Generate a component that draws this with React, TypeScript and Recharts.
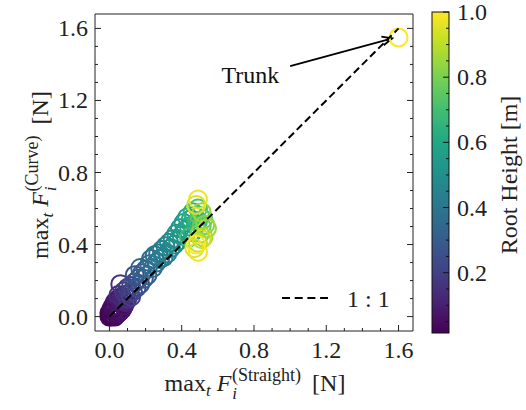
import { ScatterChart, Scatter, XAxis, YAxis, ReferenceLine, ReferenceDot, Customized } from 'recharts';

// max_t F_i (Straight) [N]
const straight = [
  0.0, 0.005, 0.01, 0.01, 0.02, 0.02, 0.03, 0.03, 0.04, 0.04, 0.05, 0.05, 0.06, 0.06, 0.07, 0.03, 0.02,
  0.0, 0.01, 0.03, 0.04, 0.05, 0.06, 0.07, 0.08, 0.02, 0.04, 0.05, 0.07, 0.09,
  0.07, 0.08, 0.05, 0.09, 0.06, 0.1, 0.08, 0.11, 0.1, 0.12,
  0.12, 0.13, 0.14, 0.15, 0.14, 0.16, 0.17, 0.18, 0.19, 0.2, 0.21, 0.17,
  0.22, 0.23, 0.24, 0.25, 0.26, 0.27, 0.28, 0.29, 0.3, 0.31, 0.32, 0.33, 0.34, 0.35, 0.36, 0.37,
  0.38, 0.39, 0.4, 0.41, 0.42, 0.43, 0.44, 0.45, 0.46, 0.47, 0.48, 0.46, 0.49, 0.44,
  0.49, 0.5, 0.51, 0.52, 0.5, 0.53, 0.51, 0.54, 0.52, 0.49,
  0.48, 0.49, 0.47, 0.49, 0.51, 0.48,
  1.6,
];
// max_t F_i (Curve) [N]
const curve = [
  0.0, 0.01, 0.0, 0.02, 0.01, 0.03, 0.02, 0.04, 0.03, 0.05, 0.04, 0.06, 0.05, 0.08, 0.07, 0.08, 0.06,
  0.02, 0.04, 0.0, 0.01, 0.02, 0.03, 0.04, 0.06, 0.05, 0.08, 0.1, 0.11, 0.08,
  0.1, 0.09, 0.12, 0.12, 0.18, 0.1, 0.14, 0.13, 0.16, 0.11,
  0.17, 0.14, 0.19, 0.16, 0.23, 0.21, 0.18, 0.24, 0.21, 0.26, 0.23, 0.27,
  0.29, 0.32, 0.27, 0.34, 0.3, 0.35, 0.32, 0.37, 0.33, 0.39, 0.35, 0.41, 0.38, 0.43, 0.4, 0.46,
  0.42, 0.49, 0.45, 0.52, 0.48, 0.55, 0.5, 0.54, 0.47, 0.56, 0.51, 0.58, 0.53, 0.44,
  0.6, 0.56, 0.5, 0.54, 0.46, 0.51, 0.58, 0.49, 0.44, 0.41,
  0.62, 0.65, 0.38, 0.36, 0.43, 0.4,
  1.55,
];
// root height [m]
const rootHeight = [
  0.02, 0.02, 0.03, 0.03, 0.04, 0.04, 0.05, 0.05, 0.06, 0.06, 0.07, 0.07, 0.08, 0.08, 0.09, 0.09, 0.1,
  0.02, 0.03, 0.03, 0.04, 0.05, 0.06, 0.07, 0.08, 0.05, 0.08, 0.09, 0.1, 0.11,
  0.11, 0.12, 0.13, 0.14, 0.15, 0.16, 0.17, 0.18, 0.19, 0.2,
  0.21, 0.22, 0.23, 0.24, 0.25, 0.26, 0.27, 0.28, 0.29, 0.3, 0.32, 0.33,
  0.35, 0.36, 0.37, 0.38, 0.39, 0.4, 0.41, 0.42, 0.43, 0.44, 0.45, 0.46, 0.47, 0.48, 0.49, 0.5,
  0.52, 0.53, 0.54, 0.55, 0.56, 0.57, 0.58, 0.6, 0.61, 0.62, 0.64, 0.65, 0.67, 0.69,
  0.72, 0.74, 0.76, 0.78, 0.8, 0.82, 0.84, 0.86, 0.88, 0.9,
  0.94, 0.97, 0.95, 0.98, 0.92, 1.0,
  1.0,
];

// 1:1 reference line
const oneToOneX = [0, 1.6];
const oneToOneY = [0, 1.6];

const majorTicks = [0, 0.4, 0.8, 1.2, 1.6];
const axisTicks = [0, 0.1, 0.2, 0.3, 0.4, 0.5, 0.6, 0.7, 0.8, 0.9, 1.0, 1.1, 1.2, 1.3, 1.4, 1.5, 1.6];
const cbarTicks = [0.2, 0.4, 0.6, 0.8, 1.0];
const cbarMinorTicks = [0.05, 0.1, 0.15, 0.25, 0.3, 0.35, 0.45, 0.5, 0.55, 0.65, 0.7, 0.75, 0.85, 0.9, 0.95];
const cbarMin = 0.015;
const cbarMax = 1.0;

const viridis = ['#440154', '#482475', '#414487', '#355f8d', '#2a788e', '#21918c', '#22a884', '#44bf70', '#7ad151', '#bddf26', '#fde725'];

const FONT = '"Liberation Serif", serif';
const INK = '#222';
const FS = 24;

const data = straight.map((x, i) => ({ x, y: curve[i], h: rootHeight[i] }));
const lineData = oneToOneX.map((x, i) => ({ x, y: oneToOneY[i] }));

function hexToRgb(h: string) {
  return [1, 3, 5].map((k) => parseInt(h.slice(k, k + 2), 16));
}

function colorFor(v: number) {
  const t = Math.min(1, Math.max(0, (v - cbarMin) / (cbarMax - cbarMin)));
  const pos = t * (viridis.length - 1);
  const i = Math.min(viridis.length - 2, Math.floor(pos));
  const f = pos - i;
  const a = hexToRgb(viridis[i]);
  const b = hexToRgb(viridis[i + 1]);
  const c = a.map((av, k) => Math.round(av + (b[k] - av) * f));
  return `rgb(${c[0]},${c[1]},${c[2]})`;
}

const isMajor = (v: number) => majorTicks.some((m) => Math.abs(m - v) < 1e-6);

const BottomTick = (props: any) => {
  const { x, y, payload } = props;
  const major = isMajor(payload.value);
  return (
    <g>
      <line x1={x} x2={x} y1={y} y2={y - (major ? 6 : 3)} stroke={INK} />
      {major && (
        <text x={x} y={y + 27} textAnchor="middle" fontSize={FS} fontFamily={FONT} fill={INK}>
          {payload.value.toFixed(1)}
        </text>
      )}
    </g>
  );
};

const TopTick = (props: any) => {
  const { x, y, payload } = props;
  const major = isMajor(payload.value);
  return <line x1={x} x2={x} y1={y} y2={y + (major ? 6 : 3)} stroke={INK} />;
};

const LeftTick = (props: any) => {
  const { x, y, payload } = props;
  const major = isMajor(payload.value);
  return (
    <g>
      <line x1={x} x2={x + (major ? 6 : 3)} y1={y} y2={y} stroke={INK} />
      {major && (
        <text x={x - 7} y={y + 8} textAnchor="end" fontSize={FS} fontFamily={FONT} fill={INK}>
          {payload.value.toFixed(1)}
        </text>
      )}
    </g>
  );
};

const RightTick = (props: any) => {
  const { x, y, payload } = props;
  const major = isMajor(payload.value);
  return <line x1={x} x2={x - (major ? 6 : 3)} y1={y} y2={y} stroke={INK} />;
};

const Ring = (props: any) => {
  const { cx, cy, payload } = props;
  return <circle cx={cx} cy={cy} r={9} fill="none" stroke={colorFor(payload.h)} strokeWidth={2} />;
};

const NoDot = () => <g />;

const Arrow = (props: any) => {
  const { x1, y1, x2, y2 } = props;
  const ang = Math.atan2(y2 - y1, x2 - x1);
  const L = 11;
  const a1 = ang + Math.PI - 0.42;
  const a2 = ang + Math.PI + 0.42;
  return (
    <g>
      <line x1={x1} y1={y1} x2={x2} y2={y2} stroke="#000" strokeWidth={1.8} />
      <polyline
        points={`${x2 + L * Math.cos(a1)},${y2 + L * Math.sin(a1)} ${x2},${y2} ${x2 + L * Math.cos(a2)},${y2 + L * Math.sin(a2)}`}
        fill="none"
        stroke="#000"
        strokeWidth={1.8}
      />
    </g>
  );
};

const TrunkLabel = (props: any) => {
  const { cx, cy } = props;
  return (
    <text x={cx} y={cy + 8} textAnchor="middle" fontSize={FS} fontFamily={FONT} fill="#111">
      Trunk
    </text>
  );
};

const MathTitle = ({ x, y, sup, rotate }: { x: number; y: number; sup: string; rotate?: boolean }) => (
  <text
    x={x}
    y={y}
    fontSize={FS}
    fill={INK}
    textAnchor="middle"
    transform={rotate ? `rotate(-90 ${x} ${y})` : undefined}
  >
    max
    <tspan fontSize={17} fontStyle="italic" dy={5}>t</tspan>
    <tspan fontStyle="italic" dx={6} dy={-5}>F</tspan>
    <tspan fontSize={17} fontStyle="italic" dx={1} dy={8}>i</tspan>
    <tspan fontSize={18} dx={-5} dy={-18}>{sup}</tspan>
    <tspan dx={11} dy={10}>[N]</tspan>
  </text>
);

// colorbar + legend + axis titles
const Overlay = () => {
  const cbX = 432;
  const cbW = 17;
  const cbTop = 12;
  const cbBot = 333;
  const cy = (v: number) => cbBot - ((v - cbarMin) / (cbarMax - cbarMin)) * (cbBot - cbTop);
  return (
    <g fontFamily={FONT}>
      <defs>
        <linearGradient id="viridisGrad" x1="0" y1="1" x2="0" y2="0">
          {viridis.map((c, i) => (
            <stop key={i} offset={i / (viridis.length - 1)} stopColor={c} />
          ))}
        </linearGradient>
      </defs>
      <rect x={cbX} y={cbTop} width={cbW} height={cbBot - cbTop} fill="url(#viridisGrad)" stroke="#111" strokeWidth={1} />
      {cbarMinorTicks.map((v) => (
        <line key={'m' + v} x1={cbX + cbW} x2={cbX + cbW - 3} y1={cy(v)} y2={cy(v)} stroke="#111" />
      ))}
      {cbarTicks.map((v) => (
        <g key={'t' + v}>
          <line x1={cbX + cbW} x2={cbX + cbW - 6} y1={cy(v)} y2={cy(v)} stroke="#111" />
          <text x={cbX + cbW + 8} y={cy(v) + 8} fontSize={FS} fill={INK}>
            {v.toFixed(1)}
          </text>
        </g>
      ))}
      <text x={517} y={175} fontSize={FS} fill={INK} textAnchor="middle" transform="rotate(-90 517 175)">
        Root Height [m]
      </text>

      {/* legend */}
      <line x1={282} x2={328} y1={298} y2={298} stroke="#000" strokeWidth={2} strokeDasharray="8 4.7" />
      <text x={347} y={307} fontSize={FS} fill={INK}>
        1 : 1
      </text>

      <MathTitle x={255} y={391} sup="(Straight)" />
      <MathTitle x={48} y={175} sup="(Curve)" rotate />
    </g>
  );
};

const domain: [number, number] = [-0.08, 1.68];

export default function App() {
  return (
    <div style={{ position: 'absolute', left: 0, top: 0, background: '#fff' }}>
      <ScatterChart width={526} height={410} margin={{ top: 13, right: 112, bottom: 78, left: 94 }}>
        <XAxis
          type="number"
          dataKey="x"
          domain={domain}
          allowDataOverflow
          ticks={axisTicks}
          interval={0}
          height={1}
          tickSize={0}
          tickMargin={0}
          tickLine={false}
          axisLine={{ stroke: INK }}
          tick={<BottomTick />}
        />
        <XAxis
          xAxisId="top"
          orientation="top"
          type="number"
          domain={domain}
          allowDataOverflow
          ticks={axisTicks}
          interval={0}
          height={1}
          tickSize={0}
          tickMargin={0}
          tickLine={false}
          axisLine={{ stroke: INK }}
          tick={<TopTick />}
        />
        <YAxis
          type="number"
          dataKey="y"
          domain={domain}
          allowDataOverflow
          ticks={axisTicks}
          interval={0}
          width={1}
          tickSize={0}
          tickMargin={0}
          tickLine={false}
          axisLine={{ stroke: INK }}
          tick={<LeftTick />}
        />
        <YAxis
          yAxisId="right"
          orientation="right"
          type="number"
          domain={domain}
          allowDataOverflow
          ticks={axisTicks}
          interval={0}
          width={1}
          tickSize={0}
          tickMargin={0}
          tickLine={false}
          axisLine={{ stroke: INK }}
          tick={<RightTick />}
        />
        <Scatter data={data} shape={<Ring />} isAnimationActive={false} />
        <Scatter
          data={lineData}
          line={{ stroke: '#000', strokeWidth: 2, strokeDasharray: '7.5 4' }}
          shape={<NoDot />}
          isAnimationActive={false}
        />
        <ReferenceLine segment={[{ x: 1.0, y: 1.39 }, { x: 1.565, y: 1.545 }]} shape={<Arrow />} />
        <ReferenceDot x={0.78} y={1.34} r={0} shape={<TrunkLabel />} />
        <Customized component={Overlay} />
      </ScatterChart>
    </div>
  );
}
